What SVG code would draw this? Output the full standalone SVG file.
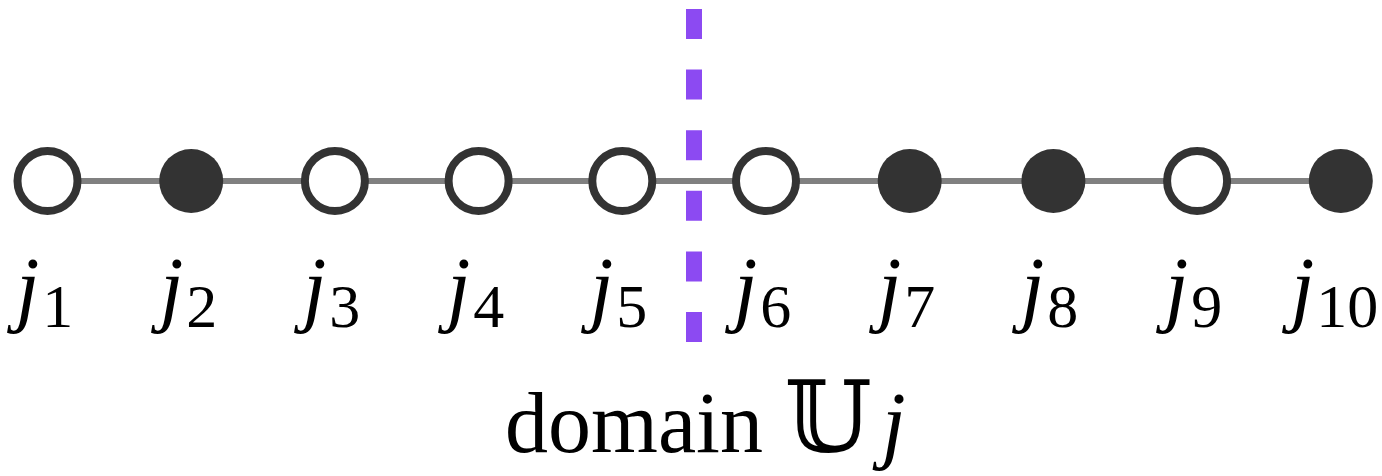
<svg xmlns="http://www.w3.org/2000/svg" width="1382" height="476" viewBox="0 0 1382 476">
<style>
.edge{stroke:#808080;stroke-width:6;fill:none}
.open{fill:#fff;stroke:#333;stroke-width:8}
.full{fill:#333;stroke:none}
.divider{stroke:#8c4af2;stroke-width:16;stroke-dasharray:30 30.6;fill:none}
.lbl{font-family:"Liberation Serif","DejaVu Serif",serif;fill:#000}
.j{font-style:italic;font-size:84px}
.sub{font-size:62px}
.cap{font-family:"Liberation Serif","DejaVu Serif",serif;font-size:86px;fill:#000}
</style>
<g id="connectors">
<line class="edge" x1="47.5" y1="181" x2="1340.8" y2="181"/>
</g>
<g id="divider"><line class="divider" x1="694" y1="9" x2="694" y2="342"/></g>
<g id="n1"><circle class="open" cx="47.5" cy="181" r="30"/><text class="lbl" x="16" y="316"><tspan class="j">j</tspan><tspan class="sub" dx="3" dy="11">1</tspan></text></g>
<g id="n2"><circle class="full" cx="191.2" cy="181" r="32"/><text class="lbl" x="160" y="316"><tspan class="j">j</tspan><tspan class="sub" dx="3" dy="11">2</tspan></text></g>
<g id="n3"><circle class="open" cx="334.9" cy="181" r="30"/><text class="lbl" x="303" y="316"><tspan class="j">j</tspan><tspan class="sub" dx="3" dy="11">3</tspan></text></g>
<g id="n4"><circle class="open" cx="478.6" cy="181" r="30"/><text class="lbl" x="447" y="316"><tspan class="j">j</tspan><tspan class="sub" dx="3" dy="11">4</tspan></text></g>
<g id="n5"><circle class="open" cx="622.3" cy="181" r="30"/><text class="lbl" x="590" y="316"><tspan class="j">j</tspan><tspan class="sub" dx="3" dy="11">5</tspan></text></g>
<g id="n6"><circle class="open" cx="766" cy="181" r="30"/><text class="lbl" x="734" y="316"><tspan class="j">j</tspan><tspan class="sub" dx="3" dy="11">6</tspan></text></g>
<g id="n7"><circle class="full" cx="909.7" cy="181" r="32"/><text class="lbl" x="878" y="316"><tspan class="j">j</tspan><tspan class="sub" dx="3" dy="11">7</tspan></text></g>
<g id="n8"><circle class="full" cx="1053.4" cy="181" r="32"/><text class="lbl" x="1021" y="316"><tspan class="j">j</tspan><tspan class="sub" dx="3" dy="11">8</tspan></text></g>
<g id="n9"><circle class="open" cx="1197.1" cy="181" r="30"/><text class="lbl" x="1165" y="316"><tspan class="j">j</tspan><tspan class="sub" dx="3" dy="11">9</tspan></text></g>
<g id="n10"><circle class="full" cx="1340.8" cy="181" r="32"/><text class="lbl" x="1291" y="316"><tspan class="j">j</tspan><tspan class="sub" dx="2" dy="11">10</tspan></text></g>
<g id="caption"><text class="cap" x="505" y="452">domain <tspan font-family="'DejaVu Serif','DejaVu Sans',serif" font-size="100px">𝕌</tspan><tspan font-style="italic" dx="10">j</tspan></text></g>
</svg>
